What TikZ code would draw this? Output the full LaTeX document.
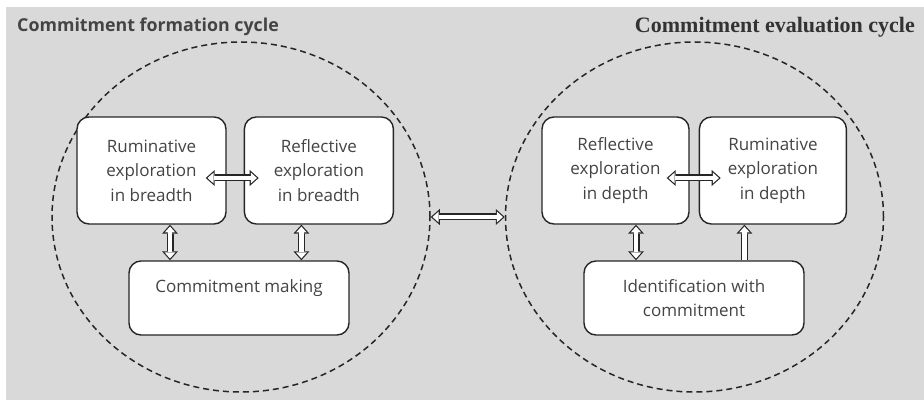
\documentclass[tikz,border=0pt]{standalone}
\usepackage{fontspec}
\usepackage{tikz}
\usetikzlibrary{arrows.meta, calc, positioning, shapes.geometric}

\newfontfamily\boxfont{Open Sans}
\newfontfamily\serifhead{Liberation Serif}
\definecolor{panelgray}{RGB}{217,217,217}
\definecolor{inkgray}{RGB}{68,68,68}

\tikzset{
    outer tip/.tip={Triangle[length=9pt, width=16pt, line width=0pt]},
    inner tip/.tip={Triangle[length=6pt, width=10.7pt, line width=0pt]},
    cycleloop/.style={ellipse, draw=black!85, dash pattern=on 6pt off 4pt, line width=1.5pt,
        minimum width=378pt, minimum height=350pt, inner sep=0pt},
    stage/.style={rectangle, rounded corners=12pt, draw=black!85, line width=1.4pt, fill=white,
        minimum width=147pt, minimum height=107pt, align=center, text=inkgray,
        font=\boxfont\fontsize{17}{24.5}\selectfont},
    hollow/.style={draw=black!85, line width=7pt, {outer tip}-{outer tip},
        postaction={draw=white, line width=4.6pt, shorten <=1.8pt, shorten >=1.8pt, {inner tip}-{inner tip}}},
    hollowup/.style={draw=black!85, line width=7pt, -{outer tip},
        postaction={draw=white, line width=4.6pt, shorten >=1.8pt, -{inner tip}}},
}

\begin{document}
\begin{tikzpicture}[x=1pt, y=-1pt]
    \useasboundingbox (0,0) rectangle (924,403);
    \fill[panelgray] (6,7) rectangle (924,400);

    % Titles
    \node[anchor=west, inner sep=0pt, text=inkgray, font=\boxfont\bfseries\fontsize{17.8}{20}\selectfont]
        (formTitle) at (17,27) {Commitment formation cycle};
    \node[anchor=east, inner sep=0pt, text=black!80, font=\serifhead\bfseries\fontsize{22}{24}\selectfont]
        (evalTitle) at (915,27) {Commitment evaluation cycle};

    % Dashed cycles
    \node[cycleloop] (formation) at (241,217) {};
    \node[cycleloop] (evaluation) at (694.5,217) {};

    % Formation stages
    \node[stage, minimum width=149pt] (rumBreadth) at (151.5,170.5) {Ruminative\\exploration\\in breadth};
    \node[stage, minimum width=149pt, right=17pt of rumBreadth] (refBreadth) {Reflective\\exploration\\in breadth};
    \node[stage, minimum width=220pt, minimum height=74pt] (making) at (239,298) {Commitment making\\\mbox{}};

    % Evaluation stages
    \node[stage] (refDepth) at (615.5,170.5) {Reflective\\exploration\\in depth};
    \node[stage, right=9pt of refDepth] (rumDepth) {Ruminative\\exploration\\in depth};
    \node[stage, minimum width=220pt, minimum height=74pt] (identify) at (694,298) {Identification with\\commitment};

    % Arrows
    \draw[hollow] ([shift={(-21,7.5)}]rumBreadth.east) -- ([shift={(15,7.5)}]refBreadth.west);
    \draw[hollow] ([shift={(-23,7.5)}]refDepth.east) -- ([shift={(22,7.5)}]rumDepth.west);
    \draw[hollow] ([xshift=18.5pt]rumBreadth.south) -- ([xshift=18.5pt]rumBreadth.south |- making.north);
    \draw[hollow] ([xshift=-17.5pt]refBreadth.south) -- ([xshift=-17.5pt]refBreadth.south |- making.north);
    \draw[hollow] ([xshift=20.5pt]refDepth.south) -- ([xshift=20.5pt]refDepth.south |- identify.north);
    \draw[hollowup] ([xshift=-28.5pt]rumDepth.south |- identify.north) -- ([xshift=-28.5pt]rumDepth.south);
    \draw[hollow] (formation.east) -- (evaluation.west);
\end{tikzpicture}
\end{document}
